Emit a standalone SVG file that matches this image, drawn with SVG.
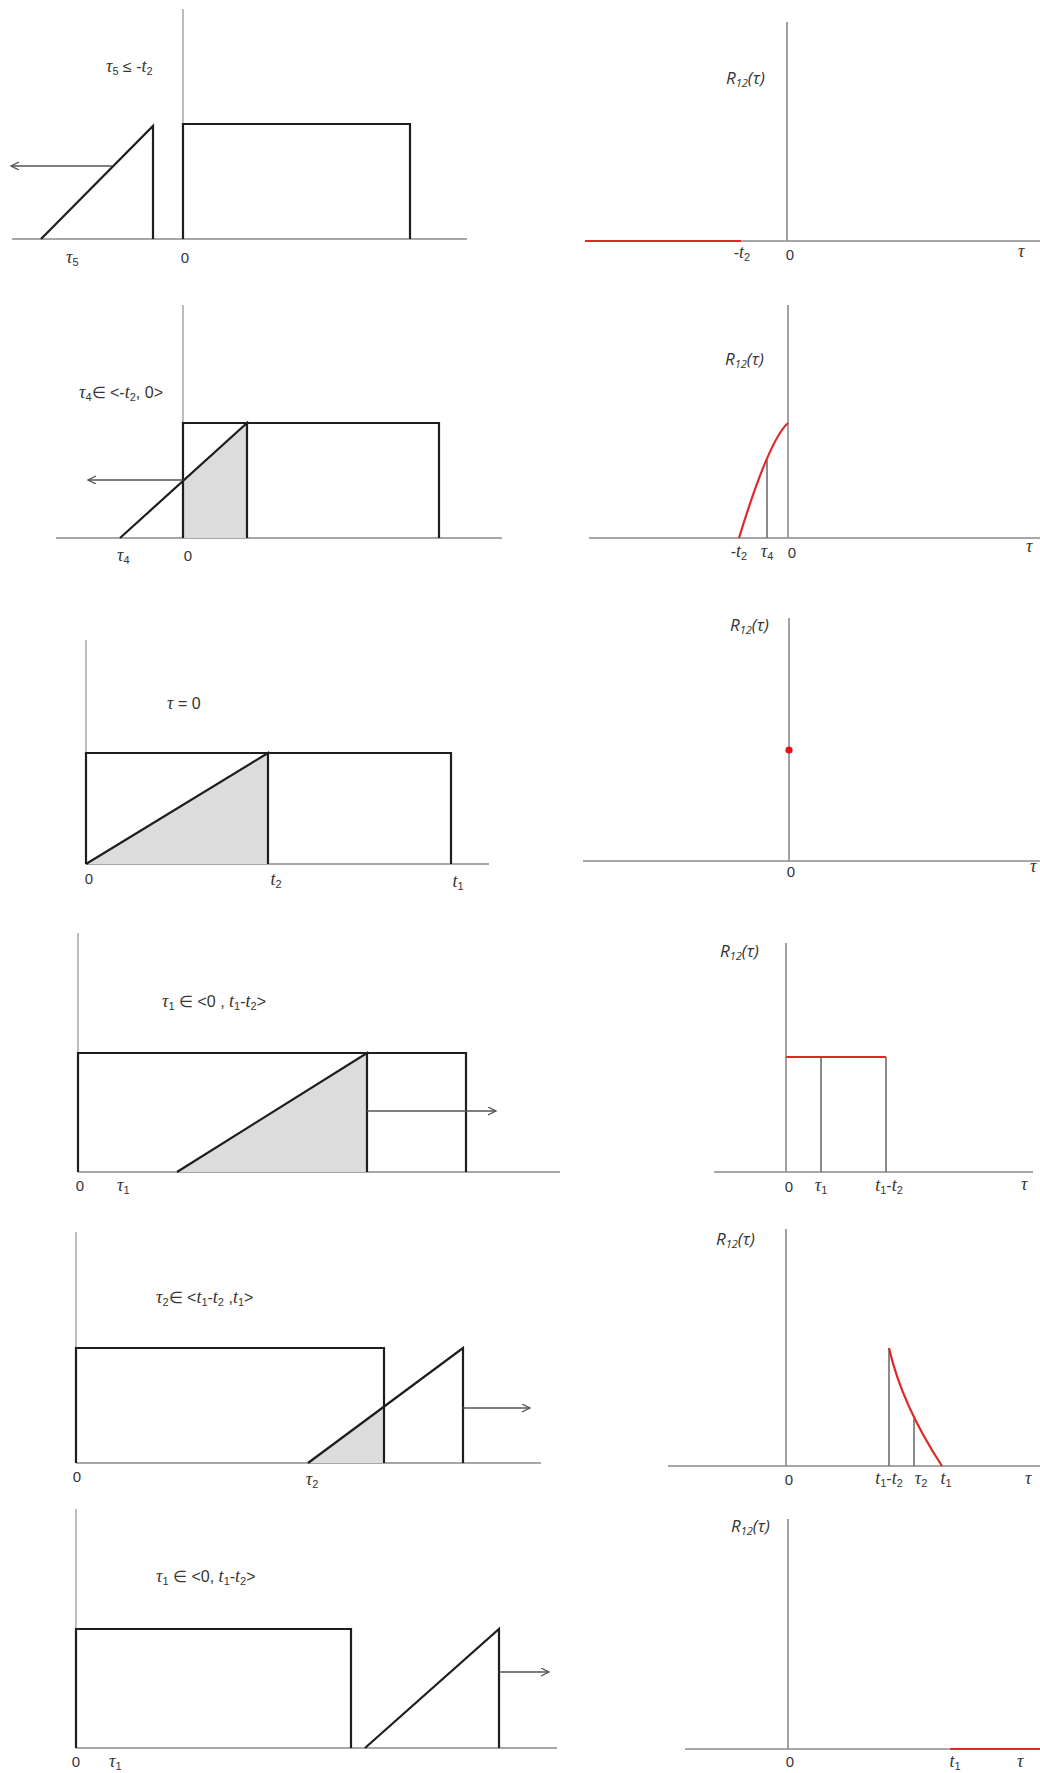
<svg xmlns="http://www.w3.org/2000/svg" width="1040" height="1773" viewBox="0 0 1040 1773">
<defs>
<style>
.ax{stroke:#8a8a8a;stroke-width:1.6;fill:none}
.axl{stroke:#9a9a9a;stroke-width:1.3;fill:none}
.sh{stroke:#1e1e1e;stroke-width:2.2;fill:none;stroke-linejoin:miter}
.fill{fill:#dcdcdc;stroke:none}
.red{stroke:#e02828;stroke-width:2.2;fill:none}
.gv{stroke:#6e6e6e;stroke-width:1.6;fill:none}
.arr{stroke:#555;stroke-width:1.3;fill:none;marker-end:url(#ah)}
text{font-family:"Liberation Sans","Open Sans",sans-serif;font-size:16px;fill:#353535}
.v{font-family:"Liberation Serif",serif;font-style:italic;font-size:18px}
.s{font-size:11px}
.n{font-size:15px}
.m{text-anchor:middle}
.r{font-family:"Open Sans","Liberation Sans",sans-serif;font-style:italic;font-size:17px}
.r .s{font-size:11px}
</style>
<marker id="ah" markerWidth="10" markerHeight="10" refX="8" refY="4" orient="auto" markerUnits="userSpaceOnUse">
<path d="M0,0 L8,4 L0,8" fill="none" stroke="#555" stroke-width="1.3"/>
</marker>
</defs>
<rect width="1040" height="1773" fill="#fff"/>

<!-- Row 1 -->
<g id="p1-left">
<line class="ax" x1="12" y1="239" x2="467" y2="239"/>
<line class="axl" x1="183" y1="9" x2="183" y2="239"/>
<path class="sh" d="M183 239 V124 H410 V239"/>
<path class="sh" d="M41 239 L153 126 V239"/>
<text x="106" y="72"><tspan class="v">τ</tspan><tspan class="s" dy="3">5</tspan><tspan dy="-3"> ≤ -</tspan><tspan class="v">t</tspan><tspan class="s" dy="3">2</tspan></text>
<text x="66" y="263"><tspan class="v">τ</tspan><tspan class="s" dy="3">5</tspan></text>
<text class="n m" x="185" y="263">0</text>
</g>
<g id="p1-right">
<line class="ax" x1="585" y1="241" x2="1040" y2="241"/>
<line class="ax" x1="787" y1="22" x2="787" y2="241"/>
<line class="red" x1="585" y1="241" x2="741" y2="241"/>
<text class="r" x="726" y="84">R<tspan class="s" dy="3">12</tspan><tspan dy="-3">(τ)</tspan></text>
<text class="m" x="742" y="258">-<tspan class="v">t</tspan><tspan class="s" dy="3">2</tspan></text>
<text class="n m" x="790" y="260">0</text>
<text class="v" x="1018" y="257">τ</text>
</g>

<!-- Row 2 -->
<g id="p2-left">
<line class="ax" x1="56" y1="538" x2="502" y2="538"/>
<line class="axl" x1="183" y1="305" x2="183" y2="538"/>
<polygon class="fill" points="183,481 247,423 247,538 183,538"/>
<path class="sh" d="M183 538 V423 H439 V538"/>
<path class="sh" d="M120 538 L247 423 V538"/>
<text x="79" y="398"><tspan class="v">τ</tspan><tspan class="s" dy="3">4</tspan><tspan dy="-3">∈ &lt;-</tspan><tspan class="v">t</tspan><tspan class="s" dy="3">2</tspan><tspan dy="-3">, 0&gt;</tspan></text>
<text x="117" y="561"><tspan class="v">τ</tspan><tspan class="s" dy="3">4</tspan></text>
<text class="n m" x="188" y="561">0</text>
</g>
<g id="p2-right">
<line class="ax" x1="589" y1="538" x2="1040" y2="538"/>
<line class="ax" x1="788" y1="305" x2="788" y2="538"/>
<line class="gv" x1="767" y1="460" x2="767" y2="538"/>
<path class="red" d="M739 538 Q769 440 788 423"/>
<text class="r" x="725" y="365">R<tspan class="s" dy="3">12</tspan><tspan dy="-3">(τ)</tspan></text>
<text class="m" x="739" y="557">-<tspan class="v">t</tspan><tspan class="s" dy="3">2</tspan></text>
<text class="m" x="767" y="557"><tspan class="v">τ</tspan><tspan class="s" dy="3">4</tspan></text>
<text class="n m" x="792" y="558">0</text>
<text class="v" x="1026" y="552">τ</text>
</g>

<!-- Row 3 -->
<g id="p3-left">
<line class="ax" x1="86" y1="864" x2="489" y2="864"/>
<line class="axl" x1="86" y1="640" x2="86" y2="864"/>
<polygon class="fill" points="86,864 268,753 268,864"/>
<path class="sh" d="M86 864 V753 H451 V864"/>
<path class="sh" d="M86 864 L268 753 V864"/>
<text x="167" y="709"><tspan class="v">τ</tspan><tspan> = 0</tspan></text>
<text class="n m" x="89" y="884">0</text>
<text class="m" x="276" y="885"><tspan class="v">t</tspan><tspan class="s" dy="3">2</tspan></text>
<text class="m" x="458" y="887"><tspan class="v">t</tspan><tspan class="s" dy="3">1</tspan></text>
</g>
<g id="p3-right">
<line class="ax" x1="583" y1="861" x2="1040" y2="861"/>
<line class="ax" x1="789" y1="618" x2="789" y2="861"/>
<circle cx="789" cy="750" r="3.6" fill="#e81010"/>
<text class="r" x="730" y="631">R<tspan class="s" dy="3">12</tspan><tspan dy="-3">(τ)</tspan></text>
<text class="n m" x="791" y="877">0</text>
<text class="v" x="1030" y="872">τ</text>
</g>

<!-- Row 4 -->
<g id="p4-left">
<line class="ax" x1="78" y1="1172" x2="560" y2="1172"/>
<line class="axl" x1="78" y1="933" x2="78" y2="1172"/>
<polygon class="fill" points="177,1172 367,1053 367,1172"/>
<path class="sh" d="M78 1172 V1053 H466 V1172"/>
<path class="sh" d="M177 1172 L367 1053 V1172"/>
<text x="162" y="1007"><tspan class="v">τ</tspan><tspan class="s" dy="3">1</tspan><tspan dy="-3"> ∈ &lt;0 , </tspan><tspan class="v">t</tspan><tspan class="s" dy="3">1</tspan><tspan dy="-3">-</tspan><tspan class="v">t</tspan><tspan class="s" dy="3">2</tspan><tspan dy="-3">&gt;</tspan></text>
<text class="n m" x="80" y="1191">0</text>
<text x="117" y="1191"><tspan class="v">τ</tspan><tspan class="s" dy="3">1</tspan></text>
</g>
<g id="p4-right">
<line class="ax" x1="714" y1="1172" x2="1033" y2="1172"/>
<line class="ax" x1="786" y1="943" x2="786" y2="1172"/>
<line class="gv" x1="821" y1="1057" x2="821" y2="1172"/>
<line class="gv" x1="886" y1="1057" x2="886" y2="1172"/>
<line class="red" x1="786" y1="1057" x2="886" y2="1057"/>
<text class="r" x="720" y="957">R<tspan class="s" dy="3">12</tspan><tspan dy="-3">(τ)</tspan></text>
<text class="n m" x="789" y="1192">0</text>
<text class="m" x="821" y="1191"><tspan class="v">τ</tspan><tspan class="s" dy="3">1</tspan></text>
<text class="m" x="889" y="1191"><tspan class="v">t</tspan><tspan class="s" dy="3">1</tspan><tspan dy="-3">-</tspan><tspan class="v">t</tspan><tspan class="s" dy="3">2</tspan></text>
<text class="v" x="1021" y="1190">τ</text>
</g>

<!-- Row 5 -->
<g id="p5-left">
<line class="ax" x1="76" y1="1463" x2="541" y2="1463"/>
<line class="axl" x1="76" y1="1232" x2="76" y2="1463"/>
<polygon class="fill" points="308,1463 384,1406 384,1463"/>
<path class="sh" d="M76 1463 V1348 H384 V1463"/>
<path class="sh" d="M308 1463 L463 1348 V1463"/>
<text x="156" y="1303"><tspan class="v">τ</tspan><tspan class="s" dy="3">2</tspan><tspan dy="-3">∈ &lt;</tspan><tspan class="v">t</tspan><tspan class="s" dy="3">1</tspan><tspan dy="-3">-</tspan><tspan class="v">t</tspan><tspan class="s" dy="3">2</tspan><tspan dy="-3"> ,</tspan><tspan class="v">t</tspan><tspan class="s" dy="3">1</tspan><tspan dy="-3">&gt;</tspan></text>
<text class="n m" x="77" y="1482">0</text>
<text class="m" x="312" y="1485"><tspan class="v">τ</tspan><tspan class="s" dy="3">2</tspan></text>
</g>
<g id="p5-right">
<line class="ax" x1="668" y1="1466" x2="1040" y2="1466"/>
<line class="ax" x1="786" y1="1229" x2="786" y2="1466"/>
<line class="gv" x1="889" y1="1348" x2="889" y2="1466"/>
<line class="gv" x1="914" y1="1419" x2="914" y2="1466"/>
<path class="red" d="M889 1348 Q902 1405 942 1466"/>
<text class="r" x="716" y="1245">R<tspan class="s" dy="3">12</tspan><tspan dy="-3">(τ)</tspan></text>
<text class="n m" x="789" y="1485">0</text>
<text class="m" x="889" y="1484"><tspan class="v">t</tspan><tspan class="s" dy="3">1</tspan><tspan dy="-3">-</tspan><tspan class="v">t</tspan><tspan class="s" dy="3">2</tspan></text>
<text class="m" x="921" y="1484"><tspan class="v">τ</tspan><tspan class="s" dy="3">2</tspan></text>
<text class="m" x="946" y="1484"><tspan class="v">t</tspan><tspan class="s" dy="3">1</tspan></text>
<text class="v" x="1025" y="1484">τ</text>
</g>

<!-- Row 6 -->
<g id="p6-left">
<line class="ax" x1="76" y1="1748" x2="557" y2="1748"/>
<line class="axl" x1="76" y1="1509" x2="76" y2="1748"/>
<path class="sh" d="M76 1748 V1629 H351 V1748"/>
<path class="sh" d="M365 1748 L499 1629 V1748"/>
<text x="156" y="1582"><tspan class="v">τ</tspan><tspan class="s" dy="3">1</tspan><tspan dy="-3"> ∈ &lt;0, </tspan><tspan class="v">t</tspan><tspan class="s" dy="3">1</tspan><tspan dy="-3">-</tspan><tspan class="v">t</tspan><tspan class="s" dy="3">2</tspan><tspan dy="-3">&gt;</tspan></text>
<text class="n m" x="76" y="1767">0</text>
<text x="109" y="1767"><tspan class="v">τ</tspan><tspan class="s" dy="3">1</tspan></text>
</g>
<g id="p6-right">
<line class="ax" x1="685" y1="1749" x2="1040" y2="1749"/>
<line class="ax" x1="788" y1="1519" x2="788" y2="1749"/>
<line class="red" x1="950" y1="1749" x2="1040" y2="1749"/>
<text class="r" x="731" y="1532">R<tspan class="s" dy="3">12</tspan><tspan dy="-3">(τ)</tspan></text>
<text class="n m" x="790" y="1767">0</text>
<text class="m" x="955" y="1767"><tspan class="v">t</tspan><tspan class="s" dy="3">1</tspan></text>
<text class="v" x="1017" y="1767">τ</text>
</g>

<!-- Connectors (motion arrows) -->
<g id="connectors">
<line class="arr" x1="112" y1="166" x2="11" y2="166"/>
<line class="arr" x1="183" y1="480" x2="88" y2="480"/>
<line class="arr" x1="367" y1="1111" x2="496" y2="1111"/>
<line class="arr" x1="463" y1="1408" x2="530" y2="1408"/>
<line class="arr" x1="499" y1="1672" x2="549" y2="1672"/>
</g>
</svg>
